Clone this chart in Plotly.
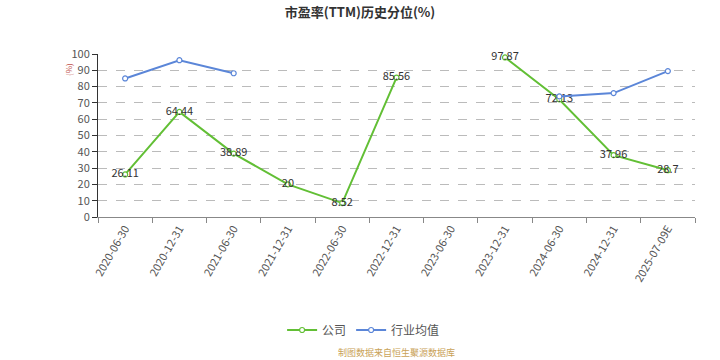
import plotly.graph_objects as go

categories = ["2020-06-30", "2020-12-31", "2021-06-30", "2021-12-31", "2022-06-30",
              "2022-12-31", "2023-06-30", "2023-12-31", "2024-06-30", "2024-12-31", "2025-07-09E"]
company = [26.11, 64.44, 38.89, 20, 8.52, 85.56, None, 97.87, 72.13, 37.96, 28.7]
industry = [85.0, 96.2, 88.2, None, None, None, None, None, 74.0, 76.0, 89.5]
y_ticks = list(range(0, 101, 10))

font_family = "Noto Sans CJK SC, Noto Sans, sans-serif"
green = "#62bf35"
blue = "#5b86d8"

fig = go.Figure()
fig.add_trace(go.Scatter(
    x=categories, y=company, name="公司", mode="lines+markers+text",
    text=[("" if v is None else f"{v:g}") for v in company],
    textposition="middle center",
    textfont=dict(size=11, color="#333333", family=font_family),
    line=dict(color=green, width=2),
    marker=dict(symbol="circle", size=5, color="white", line=dict(color=green, width=1.2)),
    connectgaps=False, cliponaxis=False,
))
fig.add_trace(go.Scatter(
    x=categories, y=industry, name="行业均值", mode="lines+markers",
    line=dict(color=blue, width=2),
    marker=dict(symbol="circle", size=5, color="white", line=dict(color=blue, width=1.2)),
    connectgaps=False, cliponaxis=False,
))

fig.update_layout(
    width=720, height=360,
    margin=dict(l=98, r=25, t=54, b=143),
    paper_bgcolor="white", plot_bgcolor="white",
    font=dict(family=font_family, color="#333333"),
    title=dict(text="<b>市盈率(TTM)历史分位(%)</b>", x=0.5, xanchor="center",
               y=1 - 12 / 360, yanchor="middle", yref="container",
               font=dict(size=13, color="#333333", family=font_family)),
    showlegend=True,
    legend=dict(orientation="h", x=0.505, xanchor="center", xref="container",
                y=1 - 330 / 360, yanchor="middle", yref="container",
                font=dict(size=12, color="#555555", family=font_family),
                itemwidth=30),
    xaxis=dict(type="category", categoryorder="array", categoryarray=categories,
               range=[-0.5, len(categories) - 0.5],
               showline=True, linecolor="#888888", linewidth=1,
               ticks="outside", tickson="boundaries", ticklen=5, tickcolor="#888888",
               tickangle=-60, tickfont=dict(size=11, color="#555555", family=font_family),
               showgrid=False, zeroline=False),
    yaxis=dict(range=[0, 100], tickvals=y_ticks,
               showline=True, linecolor="#333333", linewidth=1,
               ticks="outside", ticklen=5, tickcolor="#333333",
               tickfont=dict(size=11, color="#555555", family=font_family),
               showgrid=True, gridcolor="#bbbbbb", griddash="dash", gridwidth=1,
               zeroline=False),
    annotations=[
        dict(text="(%)", x=(68 - 98) / 597, y=(217 - 70) / 163, xref="paper", yref="paper",
             xanchor="center", yanchor="middle",
             showarrow=False, textangle=-90, font=dict(size=8, color="#c0504d", family=font_family)),
        dict(text="制图数据来自恒生聚源数据库", x=0.5, xref="paper", y=(217 - 352) / 163, yref="paper",
             yanchor="middle", xanchor="center", showarrow=False,
             font=dict(size=9, color="#c9a257", family=font_family)),
    ],
)

fig.write_html("out.html", config={"displayModeBar": False},
               post_script="document.body.style.margin='0';")
